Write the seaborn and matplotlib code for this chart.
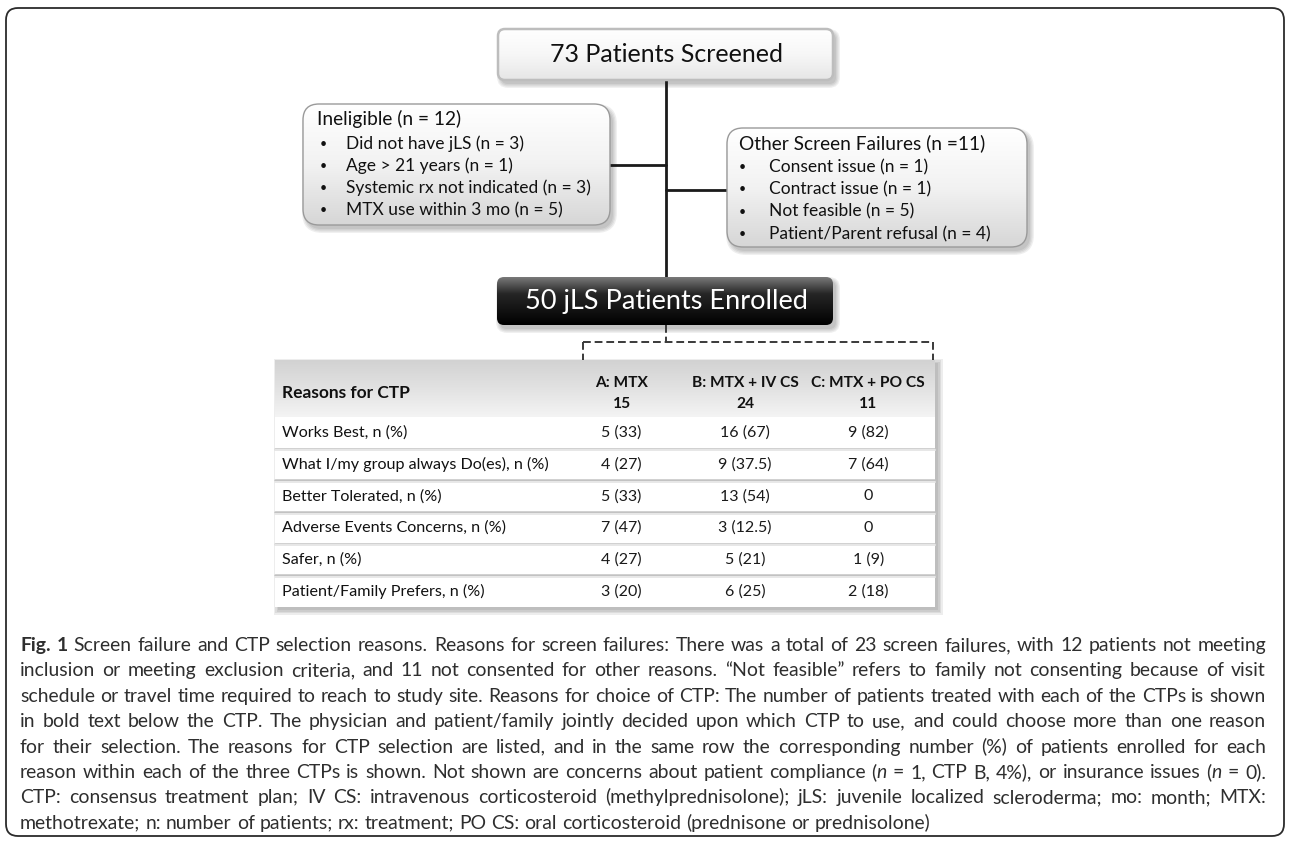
import re
import numpy as np
import pandas as pd
import matplotlib
matplotlib.use("Agg")
import matplotlib.pyplot as plt
from matplotlib.patches import FancyBboxPatch, Rectangle
from matplotlib.colors import LinearSegmentedColormap, ListedColormap
import seaborn as sns

# flowchart text
screened_label = "73 Patients Screened"
enrolled_label = "50 jLS Patients Enrolled"
ineligible_title = "Ineligible (n = 12)"
ineligible_items = ["Did not have jLS (n = 3)", "Age > 21 years (n = 1)",
                    "Systemic rx not indicated (n = 3)", "MTX use within 3 mo (n = 5)"]
other_title = "Other Screen Failures (n =11)"
other_items = ["Consent issue (n = 1)", "Contract issue (n = 1)",
               "Not feasible (n = 5)", "Patient/Parent refusal (n = 4)"]

# CTP table
ctp_names = ["A: MTX", "B: MTX + IV CS", "C: MTX + PO CS"]
ctp_totals = [15, 24, 11]
reasons = ["Works Best, n (%)", "What I/my group always Do(es), n (%)",
           "Better Tolerated, n (%)", "Adverse Events Concerns, n (%)",
           "Safer, n (%)", "Patient/Family Prefers, n (%)"]
counts_a = [5, 4, 5, 7, 4, 3]
counts_b = [16, 9, 13, 3, 5, 6]
counts_c = [9, 7, 0, 0, 1, 2]
pct_a = ["33", "27", "33", "47", "27", "20"]
pct_b = ["67", "37.5", "54", "12.5", "21", "25"]
pct_c = ["82", "64", "", "", "9", "18"]

# caption (*bold*, {italic})
caption_lines = [
    "*Fig.* *1* Screen failure and CTP selection reasons. Reasons for screen failures: There was a total of 23 screen failures, with 12 patients not meeting",
    "inclusion or meeting exclusion criteria, and 11 not consented for other reasons. \u201cNot feasible\u201d refers to family not consenting because of visit",
    "schedule or travel time required to reach to study site. Reasons for choice of CTP: The number of patients treated with each of the CTPs is shown",
    "in bold text below the CTP. The physician and patient/family jointly decided upon which CTP to use, and could choose more than one reason",
    "for their selection. The reasons for CTP selection are listed, and in the same row the corresponding number (%) of patients enrolled for each",
    "reason within each of the three CTPs is shown. Not shown are concerns about patient compliance ({n} = 1, CTP B, 4%), or insurance issues ({n} = 0).",
    "CTP: consensus treatment plan; IV CS: intravenous corticosteroid (methylprednisolone); jLS: juvenile localized scleroderma; mo: month; MTX:",
    "methotrexate; n: number of patients; rx: treatment; PO CS: oral corticosteroid (prednisone or prednisolone)",
]

sns.set_theme(style="white")
plt.rcParams['font.family'] = ['Lato', 'DejaVu Sans']

W, H = 1290, 843
fig = plt.figure(figsize=(W / 100, H / 100), dpi=100)
ax = fig.add_axes([0, 0, 1, 1])
ax.set_xlim(0, W)
ax.set_ylim(H, 0)
ax.set_autoscale_on(False)
ax.axis('off')


def rbox(x0, y0, x1, y1, r, **kw):
    return FancyBboxPatch((x0, y0), x1 - x0, y1 - y0,
                          boxstyle=f"round,pad=0,rounding_size={r}", **kw)


def shadow(x0, y0, x1, y1, r, dx=3, dy=4, layers=4, alpha=0.07):
    for i in range(layers):
        g = i * 1.3
        ax.add_patch(rbox(x0 + dx - g, y0 + dy - g, x1 + dx + g, y1 + dy + g, r + g,
                          fc='k', ec='none', alpha=alpha, zorder=1))


def gradient_box(x0, y0, x1, y1, r, colors, edge='none', lw=1.0):
    shadow(x0, y0, x1, y1, r)
    patch = rbox(x0, y0, x1, y1, r, fc='none', ec=edge, lw=lw, zorder=3)
    ax.add_patch(patch)
    cmap = LinearSegmentedColormap.from_list('g', colors)
    im = ax.imshow(np.linspace(0, 1, 256).reshape(-1, 1), extent=(x0, x1, y1, y0),
                   origin='upper', cmap=cmap, aspect='auto', zorder=2,
                   interpolation='bilinear')
    im.set_clip_path(patch)


# outer frame
ax.add_patch(rbox(6, 8, 1284, 836, 12, fc='none', ec='#2b2b2b', lw=1.3, zorder=1))

# connectors
cx = 666
ax.plot([cx, cx], [80, 277], color='k', lw=2, zorder=1)
ax.plot([610, cx], [165, 165], color='k', lw=2, zorder=1)
ax.plot([cx, 727], [190, 190], color='k', lw=2, zorder=1)

# top box
gradient_box(498, 29, 833, 80, 7, ['#ffffff', '#f7f7f7', '#e6e6e6'], edge='#bdbdbd', lw=1.8)
ax.text(cx, 55, screened_label, ha='center', va='center', fontsize=18, color='#111', zorder=4)

# side boxes
title_kw = dict(fontsize=13.8, color='#111', va='center', ha='left', zorder=4)
item_kw = dict(fontsize=12.5, color='#111', va='center', ha='left', zorder=4)
dot_kw = dict(fontsize=9, color='#111', va='center', ha='left', zorder=4)
gradient_box(303, 104, 610, 225, 16, ['#ffffff', '#f2f2f2', '#d6d6d6'], edge='#9a9a9a')
ax.text(317, 119, ineligible_title, **title_kw)
for i, item in enumerate(ineligible_items):
    y = 144 + i * 22
    ax.text(320, y, "\u2022", **dot_kw)
    ax.text(346, y, item, **item_kw)

gradient_box(727, 128, 1027, 247, 16, ['#ffffff', '#f2f2f2', '#d6d6d6'], edge='#9a9a9a')
ax.text(739, 143, other_title, **title_kw)
for i, item in enumerate(other_items):
    y = 167 + i * 22.3
    ax.text(739, y, "\u2022", **dot_kw)
    ax.text(769, y, item, **item_kw)

# enrolled box
gradient_box(497, 277, 833, 325, 7, [(0, '#7a7a7a'), (0.35, '#262626'), (1, '#000000')])
ax.text(cx, 301, enrolled_label, ha='center', va='center', fontsize=19.5, color='white', zorder=4)

# dashed bracket
dash = dict(color='#3a3a3a', lw=1.4, ls=(0, (4, 2)), zorder=1)
ax.plot([cx, cx], [325, 342], **dash)
ax.plot([583, 933], [342, 342], **dash)
ax.plot([583, 583], [342, 362], **dash)
ax.plot([933, 933], [342, 362], **dash)

# table background
tx0, tx1, ty0, thead, ty1 = 275, 935, 360, 417, 607
for i in range(4):
    g = i * 1.5
    ax.add_patch(Rectangle((tx0 + 3 - g, ty0 + 3 - g), tx1 - tx0 + 2 * g, ty1 - ty0 + 2 * g,
                           fc='k', ec='none', alpha=0.08, zorder=1))
ax.add_patch(Rectangle((tx0, thead), tx1 - tx0, ty1 - thead, fc='white', ec='none', zorder=2))
head = Rectangle((tx0, ty0), tx1 - tx0, thead - ty0, fc='none', ec='none', zorder=3)
ax.add_patch(head)
him = ax.imshow(np.linspace(0, 1, 256).reshape(-1, 1), extent=(tx0, tx1, thead, ty0),
                origin='upper', aspect='auto', zorder=2, interpolation='bilinear',
                cmap=LinearSegmentedColormap.from_list('h', ['#d2d2d2', '#e2e2e2', '#f4f4f4']))
him.set_clip_path(head)
ax.text(282, 393, "Reasons for CTP", ha='left', va='center', fontsize=12.5,
        fontweight='bold', color='#111', zorder=4)
row_h = (ty1 - thead) / len(reasons)
for k in range(1, len(reasons)):
    y = thead + k * row_h
    ax.plot([tx0, tx1], [y, y], color='#c2c2c2', lw=1.8, zorder=3)
    ax.plot([tx0, tx1], [y + 1.6, y + 1.6], color='#e8e8e8', lw=1.4, zorder=3)

# table body via heatmap
counts_df = pd.DataFrame({n: c for n, c in zip(ctp_names, [counts_a, counts_b, counts_c])},
                         index=reasons)
pcts = [pct_a, pct_b, pct_c]
annot = np.array([[f"{c} ({p})" if p else f"{c}" for c, p in zip(col, pc)]
                  for col, pc in zip([counts_a, counts_b, counts_c], pcts)]).T
header_labels = [f"{n}\n{t}" for n, t in zip(ctp_names, ctp_totals)]

hx0, hx1 = 560, 930
hax = fig.add_axes([hx0 / W, 1 - ty1 / H, (hx1 - hx0) / W, (ty1 - thead) / H])
sns.heatmap(counts_df, annot=annot, fmt='', cmap=ListedColormap([(1, 1, 1, 0)]),
            cbar=False, ax=hax, annot_kws=dict(fontsize=11.5, color='#1a1a1a'))
hax.set_facecolor('none')
hax.xaxis.tick_top()
hax.tick_params(axis='x', length=0, pad=17)
hax.tick_params(axis='y', length=0, pad=(hx0 - 282) * 0.72)
hax.set_xticklabels(header_labels, fontweight='bold', fontsize=11.2, va='center',
                    linespacing=1.65, rotation=0, color='#111')
hax.set_yticklabels(reasons, ha='left', va='center', rotation=0, fontsize=11.6, color='#111')
hax.set_xlabel('')
hax.set_ylabel('')

# caption, justified; size chosen so the longest line just fits
seg_re = re.compile(r"\*([^*]+)\*|\{([^}]+)\}|([^*{]+)")
renderer = fig.canvas.get_renderer()
cap_left, cap_right, cap_top, cap_step = 20, 1266, 644, 25.4
cap_color = '#2e2e2e'
probe = ax.text(0, -50, "", fontsize=10)
widest = 0
for line in caption_lines:
    probe.set_text(line.replace('*', '').replace('{', '').replace('}', ''))
    widest = max(widest, probe.get_window_extent(renderer).width)
probe.remove()
cap_size = 10 * (cap_right - cap_left) / widest * 0.995
base_off = cap_size / 0.72 * 0.36

a1 = ax.text(0, -50, "a a", fontsize=cap_size)
a2 = ax.text(0, -50, "aa", fontsize=cap_size)
space_w = a1.get_window_extent(renderer).width - a2.get_window_extent(renderer).width
a1.remove()
a2.remove()
for i, line in enumerate(caption_lines):
    y = cap_top + i * cap_step + base_off
    words = []
    for w in line.split(' '):
        texts, widths = [], []
        for bold, ital, plain in seg_re.findall(w):
            s = bold or ital or plain
            t = ax.text(0, y, s, fontsize=cap_size, color=cap_color, va='baseline', ha='left',
                        fontweight='bold' if bold else 'normal',
                        fontstyle='italic' if ital else 'normal', zorder=4)
            texts.append(t)
            widths.append(t.get_window_extent(renderer).width)
        words.append((texts, widths))
    total = sum(sum(ws) for _, ws in words)
    if i < len(caption_lines) - 1:
        gap = (cap_right - cap_left - total) / (len(words) - 1)
    else:
        gap = space_w
    x = cap_left
    for texts, ws in words:
        for t, wd in zip(texts, ws):
            t.set_x(x)
            x += wd
        x += gap

fig.savefig("out.png", dpi=100)
